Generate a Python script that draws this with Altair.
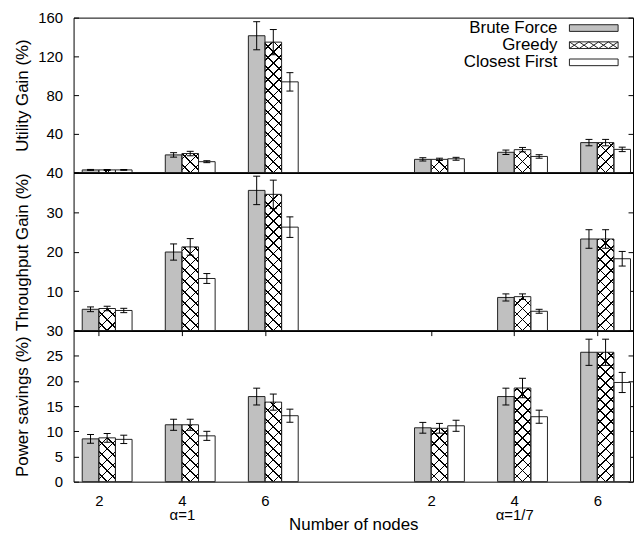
import math
import altair as alt

# ---------------- data ----------------
SERIES = ["Brute Force", "Greedy", "Closest First"]
SLOTS = [0, 1, 2, 4, 5, 6]
NODE_LABELS = ["2", "4", "6", "2", "4", "6"]
GROUP_LABELS = ["", "α=1", "", "", "α=1/7", ""]

# Utility gain (%)
UT_BF = [2.8, 18.3, 141.3, 13.7, 21.0, 31.0]
UT_BF_ERR = [0.5, 2.3, 14.5, 1.7, 2.3, 3.3]
UT_GR = [2.8, 19.7, 134.7, 13.7, 23.7, 31.0]
UT_GR_ERR = [0.5, 2.3, 13.0, 1.2, 2.3, 3.3]
UT_CF = [2.8, 11.3, 93.7, 14.3, 16.7, 24.0]
UT_CF_ERR = [0.4, 1.0, 9.5, 1.5, 1.8, 2.3]

# Throughput gain (%)
TH_BF = [5.4, 19.9, 35.5, None, 8.4, 23.2]
TH_BF_ERR = [0.6, 2.05, 3.6, None, 0.9, 2.35]
TH_GR = [5.6, 21.2, 34.5, None, 8.6, 23.2]
TH_GR_ERR = [0.55, 2.1, 3.6, None, 0.7, 2.35]
TH_CF = [5.1, 13.2, 26.2, None, 4.9, 18.2]
TH_CF_ERR = [0.55, 1.25, 2.6, None, 0.5, 1.85]

# Power savings (%)
PW_BF = [8.5, 11.3, 16.9, 10.7, 16.9, 25.7]
PW_BF_ERR = [0.87, 1.1, 1.67, 1.07, 1.67, 2.6]
PW_GR = [8.7, 11.3, 15.8, 10.6, 18.6, 25.7]
PW_GR_ERR = [0.87, 1.1, 1.6, 0.97, 1.93, 2.6]
PW_CF = [8.4, 9.1, 13.1, 11.1, 12.9, 19.7]
PW_CF_ERR = [0.83, 0.9, 1.3, 1.1, 1.3, 2.0]

# ---------------- layout / style ----------------
FONT = "Liberation Sans"
W = 563
H_TOP, H_MID, H_BOT = 156, 159, 152
XMIN, XMAX = -0.304, 6.43
BAR_W = 0.2
OFFSETS = [-0.2, 0.0, 0.2]
FILLS = ["#c0c0c0", "#ffffff", "#ffffff"]
EDGE = "#222222"
INK = "#000000"
CLEAR = "rgba(0,0,0,0)"
PX_PER_X = W / (XMAX - XMIN)


def hatch_pair(w, h, spacing=7.8, lw=1.1):
    """Two linear gradients (\\ and /) giving a crosshatch on a w x h px bar."""
    L = (w + h) / math.sqrt(2)
    k = (w + h) / (w * w + h * h)

    def stops(p0):
        st = [{"offset": 0, "color": CLEAR}]
        for j in range(-80, 80):
            p = p0 + j * spacing
            a = (p - lw / 2) / L
            b = (p + lw / 2) / L
            if b <= 0 or a >= 1:
                continue
            a = max(0.0, a)
            b = min(1.0, b)
            st += [{"offset": a, "color": CLEAR}, {"offset": a, "color": INK},
                   {"offset": b, "color": INK}, {"offset": b, "color": CLEAR}]
        st.append({"offset": 1, "color": CLEAR})
        return st

    pa = (w / 2) / math.sqrt(2)
    pb = (w / 2 + h) / math.sqrt(2)
    ga = {"gradient": "linear", "x1": 0, "y1": 1, "x2": k * w, "y2": 1 - k * h, "stops": stops(pa)}
    gb = {"gradient": "linear", "x1": 0, "y1": 0, "x2": k * w, "y2": k * h, "stops": stops(pb)}
    return ga, gb


LEG_RECT = "M-7,-0.957H7V0.957H-7Z"
LEG_HATCH = (LEG_RECT +
             "M-7,-0.957L-4.2,0.957L-1.4,-0.957L1.4,0.957L4.2,-0.957L7,0.957"
             "M-7,0.957L-4.2,-0.957L-1.4,0.957L1.4,-0.957L4.2,0.957L7,-0.957")

x_label_expr = " : ".join(
    (f"datum.value == {s} ? ['{n}', '{g}']" if g else f"datum.value == {s} ? '{n}'")
    for s, n, g in zip(SLOTS, NODE_LABELS, GROUP_LABELS)
) + " : ''"


def panel(vals, errs, ymax, height, ticks, title, hide_zero, bottom):
    rows, hatch_rows = [], []
    for si, name in enumerate(SERIES):
        for k, slot in enumerate(SLOTS):
            v = vals[si][k]
            if v is None:
                continue
            e = errs[si][k]
            x0 = slot + OFFSETS[si]
            r = {"series": name, "x0": x0, "x1": x0 + BAR_W, "xm": x0 + BAR_W / 2,
                 "value": v, "base": 0, "lo": v - e, "hi": v + e}
            rows.append(r)
            if name == "Greedy":
                ga, gb = hatch_pair(BAR_W * PX_PER_X, v / ymax * height)
                hr = dict(r)
                hr["hatchA"] = ga
                hr["hatchB"] = gb
                hatch_rows.append(hr)

    xs = alt.Scale(domain=[XMIN, XMAX], nice=False, zero=False)
    ys = alt.Scale(domain=[0, ymax], nice=False, zero=True)

    label_expr = "datum.value == 0 ? '' : datum.label" if hide_zero else "datum.label"
    left_axis = alt.Axis(orient="left", values=ticks, offset=-5, tickSize=5, tickColor=INK,
                         domain=False, grid=False, labelExpr=label_expr,
                         labelFont=FONT, labelFontSize=15, labelColor=INK, labelPadding=11,
                         title=title, titleFont=FONT, titleFontSize=17, titleFontWeight="normal",
                         titleColor=INK, titleX=-56, titleBaseline="middle", titleAngle=270)
    right_axis = alt.Axis(orient="right", values=ticks, offset=-5, tickSize=5, tickColor=INK,
                          domain=False, grid=False, labels=False, title=None)
    if bottom:
        x_axis = alt.Axis(orient="bottom", values=SLOTS, offset=-5, tickSize=5, tickColor=INK,
                          domain=False, grid=False, labelExpr=x_label_expr,
                          labelFont=FONT, labelFontSize=15, labelColor=INK, labelPadding=12,
                          labelLineHeight=14, labelOverlap=False,
                          title="Number of nodes", titleFont=FONT, titleFontSize=17,
                          titleFontWeight="normal", titleColor=INK, titleY=53,
                          titleBaseline="alphabetic")
        x_axis_top = alt.Axis(orient="top", values=SLOTS, offset=-5, tickSize=5, tickColor=INK,
                              domain=False, grid=False, labels=False, title=None)
    else:
        x_axis = alt.Axis(orient="bottom", values=SLOTS, ticks=False, labels=False, grid=False,
                          domain=True, domainColor=INK, domainWidth=2, title=None)
        x_axis_top = None

    base = alt.Chart(alt.Data(values=rows)).mark_rect().encode(
        x=alt.X("x0:Q", scale=xs, axis=x_axis),
        x2="x1:Q",
        y=alt.Y("value:Q", scale=ys, axis=left_axis),
        y2="base:Q",
        fill=alt.Fill("series:N", scale=alt.Scale(domain=SERIES, range=FILLS), legend=None),
    )
    hatch_a = alt.Chart(alt.Data(values=hatch_rows)).mark_rect().encode(
        x=alt.X("x0:Q", scale=xs, axis=None), x2="x1:Q",
        y=alt.Y("value:Q", scale=ys, axis=None), y2="base:Q",
        fill=alt.Fill("hatchA:N", scale=None, legend=None),
    )
    hatch_b = alt.Chart(alt.Data(values=hatch_rows)).mark_rect().encode(
        x=alt.X("x0:Q", scale=xs, axis=None), x2="x1:Q",
        y=alt.Y("value:Q", scale=ys, axis=None), y2="base:Q",
        fill=alt.Fill("hatchB:N", scale=None, legend=None),
    )
    outline = alt.Chart(alt.Data(values=rows)).mark_rect(
        fill="transparent", stroke=EDGE, strokeWidth=1).encode(
        x=alt.X("x0:Q", scale=xs, axis=x_axis_top), x2="x1:Q",
        y=alt.Y("value:Q", scale=ys, axis=right_axis), y2="base:Q",
    )
    err = alt.Chart(alt.Data(values=rows)).mark_rule(color=INK, strokeWidth=1).encode(
        x=alt.X("xm:Q", scale=xs, axis=None),
        y=alt.Y("lo:Q", scale=ys, axis=None), y2="hi:Q",
    )
    cap_lo = alt.Chart(alt.Data(values=rows)).mark_tick(
        orient="horizontal", size=7, thickness=1, color=INK, opacity=1).encode(
        x=alt.X("xm:Q", scale=xs, axis=None),
        y=alt.Y("lo:Q", scale=ys, axis=None),
    )
    cap_hi = alt.Chart(alt.Data(values=rows)).mark_tick(
        orient="horizontal", size=7, thickness=1, color=INK, opacity=1).encode(
        x=alt.X("xm:Q", scale=xs, axis=None),
        y=alt.Y("hi:Q", scale=ys, axis=None),
    )
    layer = alt.layer(base, hatch_a, hatch_b, outline, err, cap_lo, cap_hi).resolve_axis(
        x="independent", y="independent")
    return layer


# ---------------- legend (key in the top panel) ----------------
legend_rows = [{"series": s} for s in SERIES]
leg_y = alt.Y("series:N", scale=alt.Scale(type="point", domain=SERIES, range=[10.5, 45],
                                          padding=0), axis=None)
leg_text = alt.Chart(alt.Data(values=legend_rows)).mark_text(
    align="right", baseline="middle", font=FONT, fontSize=17, color=INK).encode(
    x=alt.value(487), y=leg_y, text="series:N")
leg_sym = alt.Chart(alt.Data(values=legend_rows)).mark_point(
    filled=True, size=49, stroke=EDGE, strokeWidth=1, opacity=1).encode(
    x=alt.value(523.5), y=leg_y,
    shape=alt.Shape("series:N", scale=alt.Scale(domain=SERIES,
                                                range=[LEG_RECT, LEG_HATCH, LEG_RECT]),
                    legend=None),
    fill=alt.Fill("series:N", scale=alt.Scale(domain=SERIES, range=FILLS), legend=None),
)

top_bars = panel([UT_BF, UT_GR, UT_CF], [UT_BF_ERR, UT_GR_ERR, UT_CF_ERR], 160, H_TOP,
                 [0, 40, 80, 120, 160], "Utility Gain (%)", True, False)
top = alt.layer(top_bars, leg_text, leg_sym).resolve_scale(y="independent").properties(
    width=W, height=H_TOP)
mid = panel([TH_BF, TH_GR, TH_CF], [TH_BF_ERR, TH_GR_ERR, TH_CF_ERR], 40, H_MID,
            [0, 10, 20, 30, 40], "Throughput Gain (%)", True, False).properties(
    width=W, height=H_MID)
bot = panel([PW_BF, PW_GR, PW_CF], [PW_BF_ERR, PW_GR_ERR, PW_CF_ERR], 30, H_BOT,
            [0, 5, 10, 15, 20, 25, 30], "Power savings (%)", False, True).properties(
    width=W, height=H_BOT)

chart = alt.vconcat(top, mid, bot, spacing=0, bounds="flush").resolve_scale(
    fill="independent", shape="independent").properties(
    padding={"left": 5, "top": 0, "right": 0, "bottom": 0},
    background="white",
).configure_view(stroke=INK, strokeWidth=1)

chart.save("out.html", embed_options={"renderer": "svg", "actions": False})
